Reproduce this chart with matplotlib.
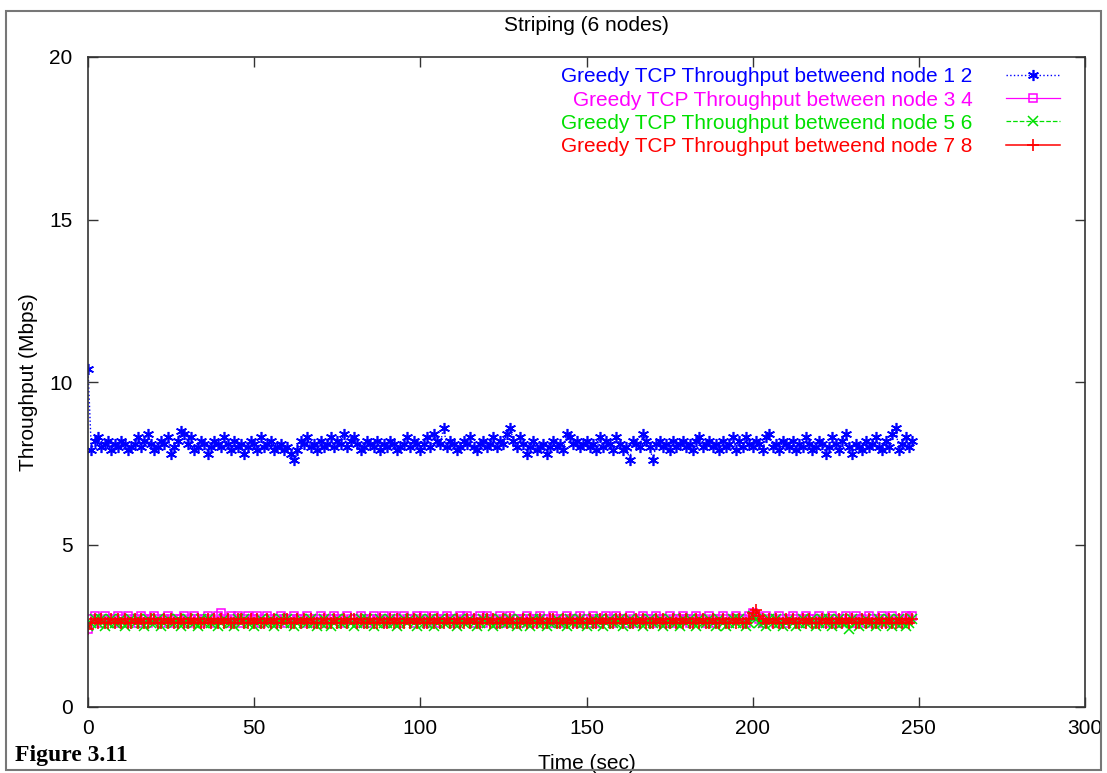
import numpy as np
import matplotlib
matplotlib.use('Agg')
import matplotlib.pyplot as plt
from matplotlib.patches import Rectangle

plt.rcParams['font.family'] = ['Liberation Sans', 'DejaVu Sans']

# sample instants (sec)
time_s = np.arange(249)

thr_12 = [10.4, 7.9, 8.2, 8.3, 8.0, 8.1, 8.2, 7.9, 8.1, 8.0,
          8.2, 8.1, 7.9, 8.0, 8.1, 8.3, 8.0, 8.2, 8.4, 8.1,
          7.9, 8.0, 8.2, 8.1, 8.3, 7.8, 8.0, 8.2, 8.5, 8.4,
          8.1, 8.3, 7.9, 8.0, 8.2, 8.1, 7.8, 8.0, 8.2, 8.1,
          8.0, 8.3, 8.1, 7.9, 8.2, 8.0, 8.1, 7.8, 8.0, 8.2,
          8.1, 7.9, 8.3, 8.0, 8.1, 8.2, 7.9, 8.0, 8.1, 7.9,
          8.0, 7.8, 7.6, 7.9, 8.2, 8.1, 8.3, 8.0, 8.1, 7.9,
          8.2, 8.0, 8.1, 8.3, 8.0, 8.2, 8.1, 8.4, 8.0, 8.2,
          8.3, 8.1, 7.9, 8.0, 8.2, 8.1, 8.0, 8.2, 7.9, 8.1,
          8.0, 8.2, 8.1, 7.9, 8.0, 8.1, 8.3, 8.0, 8.2, 8.1,
          7.9, 8.1, 8.3, 8.0, 8.4, 8.2, 8.1, 8.6, 8.0, 8.2,
          8.1, 7.9, 8.0, 8.2, 8.1, 8.3, 8.0, 7.9, 8.1, 8.2,
          8.0, 8.1, 8.3, 8.0, 8.2, 8.1, 8.4, 8.6, 8.2, 8.0,
          8.3, 8.1, 7.8, 8.0, 8.2, 7.9, 8.0, 8.1, 7.8, 8.0,
          8.2, 8.0, 8.1, 7.9, 8.4, 8.3, 8.1, 8.2, 8.0, 8.1,
          8.2, 8.0, 8.1, 7.9, 8.3, 8.0, 8.2, 8.1, 7.9, 8.3,
          8.1, 7.9, 8.0, 7.6, 8.2, 8.1, 8.0, 8.4, 8.2, 8.0,
          7.6, 8.1, 8.2, 8.0, 8.1, 7.9, 8.2, 8.0, 8.1, 8.2,
          8.0, 8.1, 7.9, 8.2, 8.3, 8.0, 8.1, 8.2, 8.0, 8.1,
          7.9, 8.2, 8.0, 8.1, 8.3, 7.9, 8.2, 8.0, 8.3, 8.1,
          8.0, 8.2, 8.1, 7.9, 8.3, 8.4, 8.0, 8.1, 7.9, 8.2,
          8.1, 8.0, 8.2, 7.9, 8.1, 8.0, 8.3, 8.1, 7.9, 8.0,
          8.2, 8.1, 7.8, 8.0, 8.3, 8.1, 7.9, 8.2, 8.4, 8.0,
          7.8, 8.1, 8.0, 7.9, 8.2, 8.0, 8.1, 8.3, 8.0, 7.9,
          8.2, 8.0, 8.4, 8.6, 7.9, 8.1, 8.3, 8.0, 8.2]

thr_34 = [2.4, 2.7, 2.8, 2.7, 2.6, 2.8, 2.7, 2.7, 2.6, 2.8,
          2.7, 2.6, 2.8, 2.7, 2.7, 2.6, 2.8, 2.7, 2.6, 2.7,
          2.8, 2.7, 2.6, 2.7, 2.8, 2.7, 2.6, 2.7, 2.7, 2.8,
          2.6, 2.7, 2.8, 2.7, 2.6, 2.7, 2.8, 2.7, 2.6, 2.8,
          2.9, 2.7, 2.6, 2.8, 2.7, 2.8, 2.6, 2.7, 2.8, 2.7,
          2.7, 2.8, 2.6, 2.7, 2.8, 2.7, 2.6, 2.7, 2.8, 2.7,
          2.6, 2.7, 2.8, 2.7, 2.7, 2.6, 2.8, 2.7, 2.6, 2.7,
          2.8, 2.7, 2.6, 2.7, 2.8, 2.7, 2.7, 2.6, 2.8, 2.7,
          2.7, 2.6, 2.8, 2.7, 2.6, 2.7, 2.8, 2.7, 2.7, 2.8,
          2.6, 2.7, 2.8, 2.7, 2.6, 2.8, 2.7, 2.7, 2.6, 2.8,
          2.7, 2.8, 2.6, 2.7, 2.8, 2.7, 2.6, 2.7, 2.8, 2.7,
          2.7, 2.6, 2.8, 2.7, 2.8, 2.7, 2.6, 2.7, 2.8, 2.6,
          2.8, 2.7, 2.7, 2.6, 2.8, 2.7, 2.6, 2.8, 2.7, 2.7,
          2.6, 2.7, 2.8, 2.7, 2.6, 2.7, 2.8, 2.7, 2.7, 2.6,
          2.8, 2.7, 2.6, 2.7, 2.8, 2.7, 2.7, 2.6, 2.8, 2.7,
          2.7, 2.6, 2.8, 2.7, 2.6, 2.7, 2.8, 2.7, 2.6, 2.8,
          2.7, 2.7, 2.6, 2.8, 2.7, 2.6, 2.7, 2.8, 2.7, 2.7,
          2.6, 2.8, 2.7, 2.7, 2.6, 2.8, 2.7, 2.6, 2.7, 2.8,
          2.7, 2.6, 2.7, 2.8, 2.7, 2.7, 2.6, 2.8, 2.7, 2.6,
          2.7, 2.8, 2.7, 2.6, 2.7, 2.8, 2.7, 2.7, 2.6, 2.8,
          2.9, 2.8, 2.7, 2.6, 2.8, 2.7, 2.7, 2.6, 2.8, 2.7,
          2.6, 2.7, 2.8, 2.7, 2.6, 2.7, 2.8, 2.7, 2.7, 2.6,
          2.8, 2.7, 2.6, 2.7, 2.8, 2.7, 2.6, 2.7, 2.8, 2.7,
          2.6, 2.8, 2.7, 2.7, 2.6, 2.8, 2.7, 2.6, 2.7, 2.8,
          2.7, 2.6, 2.8, 2.7, 2.7, 2.6, 2.8, 2.7, 2.8]

thr_56 = [2.5, 2.6, 2.7, 2.6, 2.7, 2.5, 2.6, 2.7, 2.6, 2.6,
          2.7, 2.5, 2.6, 2.7, 2.6, 2.7, 2.6, 2.5, 2.7, 2.6,
          2.6, 2.7, 2.5, 2.6, 2.7, 2.6, 2.6, 2.7, 2.5, 2.6,
          2.7, 2.6, 2.6, 2.5, 2.7, 2.6, 2.7, 2.6, 2.6, 2.5,
          2.6, 2.7, 2.6, 2.6, 2.5, 2.7, 2.6, 2.7, 2.6, 2.6,
          2.5, 2.6, 2.7, 2.6, 2.6, 2.7, 2.5, 2.6, 2.7, 2.6,
          2.7, 2.6, 2.5, 2.6, 2.7, 2.6, 2.6, 2.7, 2.6, 2.5,
          2.6, 2.7, 2.6, 2.5, 2.6, 2.7, 2.6, 2.6, 2.7, 2.6,
          2.5, 2.6, 2.7, 2.6, 2.7, 2.6, 2.5, 2.6, 2.7, 2.6,
          2.6, 2.7, 2.6, 2.5, 2.6, 2.7, 2.6, 2.7, 2.6, 2.5,
          2.7, 2.6, 2.6, 2.7, 2.5, 2.6, 2.7, 2.6, 2.6, 2.7,
          2.6, 2.5, 2.7, 2.6, 2.6, 2.7, 2.6, 2.5, 2.6, 2.7,
          2.6, 2.7, 2.5, 2.6, 2.7, 2.6, 2.6, 2.7, 2.6, 2.5,
          2.7, 2.6, 2.6, 2.5, 2.7, 2.6, 2.7, 2.6, 2.5, 2.6,
          2.6, 2.7, 2.6, 2.6, 2.5, 2.7, 2.6, 2.6, 2.7, 2.6,
          2.5, 2.6, 2.7, 2.6, 2.7, 2.5, 2.6, 2.7, 2.6, 2.6,
          2.7, 2.5, 2.6, 2.7, 2.6, 2.6, 2.7, 2.5, 2.6, 2.7,
          2.6, 2.6, 2.7, 2.5, 2.6, 2.7, 2.6, 2.6, 2.5, 2.7,
          2.6, 2.7, 2.6, 2.5, 2.7, 2.6, 2.6, 2.7, 2.6, 2.5,
          2.7, 2.6, 2.5, 2.6, 2.7, 2.6, 2.7, 2.6, 2.5, 2.6,
          2.8, 2.7, 2.6, 2.6, 2.5, 2.7, 2.6, 2.7, 2.6, 2.5,
          2.6, 2.7, 2.6, 2.5, 2.6, 2.7, 2.6, 2.6, 2.7, 2.5,
          2.6, 2.7, 2.6, 2.7, 2.5, 2.6, 2.7, 2.6, 2.6, 2.4,
          2.7, 2.6, 2.5, 2.6, 2.7, 2.6, 2.6, 2.5, 2.7, 2.6,
          2.6, 2.7, 2.5, 2.6, 2.7, 2.6, 2.5, 2.6, 2.7]

thr_78 = [2.4, 2.6, 2.7, 2.6, 2.7, 2.6, 2.6, 2.7, 2.6, 2.7,
          2.6, 2.7, 2.6, 2.6, 2.7, 2.6, 2.7, 2.6, 2.6, 2.7,
          2.7, 2.6, 2.6, 2.7, 2.6, 2.7, 2.6, 2.6, 2.7, 2.6,
          2.6, 2.7, 2.6, 2.7, 2.6, 2.6, 2.7, 2.6, 2.7, 2.6,
          2.7, 2.6, 2.7, 2.6, 2.6, 2.7, 2.7, 2.6, 2.6, 2.7,
          2.6, 2.7, 2.6, 2.6, 2.7, 2.6, 2.7, 2.6, 2.6, 2.7,
          2.7, 2.6, 2.6, 2.7, 2.6, 2.7, 2.6, 2.7, 2.6, 2.6,
          2.6, 2.7, 2.6, 2.6, 2.7, 2.6, 2.6, 2.7, 2.6, 2.7,
          2.7, 2.6, 2.7, 2.6, 2.6, 2.7, 2.6, 2.6, 2.7, 2.6,
          2.6, 2.7, 2.6, 2.7, 2.6, 2.6, 2.7, 2.6, 2.7, 2.6,
          2.7, 2.6, 2.6, 2.7, 2.6, 2.7, 2.6, 2.6, 2.7, 2.6,
          2.6, 2.7, 2.6, 2.6, 2.7, 2.6, 2.7, 2.6, 2.6, 2.7,
          2.7, 2.6, 2.7, 2.6, 2.6, 2.7, 2.6, 2.7, 2.6, 2.6,
          2.6, 2.7, 2.6, 2.7, 2.6, 2.6, 2.7, 2.6, 2.6, 2.7,
          2.7, 2.6, 2.6, 2.7, 2.6, 2.7, 2.6, 2.6, 2.7, 2.6,
          2.6, 2.7, 2.6, 2.6, 2.7, 2.6, 2.7, 2.6, 2.6, 2.7,
          2.7, 2.6, 2.7, 2.6, 2.6, 2.7, 2.6, 2.7, 2.6, 2.6,
          2.6, 2.7, 2.6, 2.7, 2.6, 2.6, 2.7, 2.6, 2.7, 2.6,
          2.7, 2.6, 2.6, 2.7, 2.6, 2.7, 2.6, 2.6, 2.7, 2.6,
          2.6, 2.7, 2.6, 2.6, 2.7, 2.6, 2.7, 2.6, 2.6, 2.7,
          2.9, 3.0, 2.8, 2.7, 2.6, 2.7, 2.6, 2.7, 2.6, 2.6,
          2.7, 2.6, 2.7, 2.6, 2.6, 2.7, 2.6, 2.7, 2.6, 2.6,
          2.6, 2.7, 2.6, 2.7, 2.6, 2.6, 2.7, 2.6, 2.7, 2.6,
          2.7, 2.6, 2.6, 2.7, 2.6, 2.7, 2.6, 2.6, 2.7, 2.6,
          2.6, 2.7, 2.6, 2.6, 2.7, 2.6, 2.7, 2.6, 2.7]

labels = ['Greedy TCP Throughput betweend node 1 2',
          'Greedy TCP Throughput between node 3 4',
          'Greedy TCP Throughput betweend node 5 6',
          'Greedy TCP Throughput betweend node 7 8']

W, H = 1107, 773
fig = plt.figure(figsize=(W / 100, H / 100), dpi=100)
ax = fig.add_axes([88 / W, 1 - 707 / H, (1085 - 88) / W, (707 - 57) / H])

ax.plot(time_s, thr_12, color='#0000ff', ls=':', lw=1.0, marker=(6, 2, 0), ms=8, mew=1.2, label=labels[0])
ax.plot(time_s, thr_34, color='#ff00ff', ls='-', lw=0.9, marker='s', ms=6, mfc='none', mew=1.1, label=labels[1])
ax.plot(time_s, thr_56, color='#00e000', ls='--', lw=0.9, marker='x', ms=6.5, mew=1.1, label=labels[2])
ax.plot(time_s, thr_78, color='#ff0000', ls='-', lw=1.1, marker='+', ms=8, mew=1.2, label=labels[3])

ax.set_xlim(0, 300)
ax.set_ylim(0, 20)
ax.set_xticks([0, 50, 100, 150, 200, 250, 300])
ax.set_yticks([0, 5, 10, 15, 20])
ax.tick_params(direction='in', length=7, width=1, top=True, right=True,
               labelsize=15, color='#333333')
ax.tick_params(axis='x', pad=9)
ax.tick_params(axis='y', pad=11)
for s in ax.spines.values():
    s.set_color('#333333')
    s.set_linewidth(1.2)

ax.set_title('Striping (6 nodes)', fontsize=15, pad=19)
ax.set_xlabel('Time (sec)', fontsize=15, labelpad=11)
ax.set_ylabel('Throughput (Mbps)', fontsize=15, labelpad=8)

leg = ax.legend(loc='upper right', bbox_to_anchor=(0.975, 0.984), frameon=False,
                markerfirst=False, fontsize=15, labelcolor='linecolor',
                handlelength=2.6, labelspacing=0.2, borderaxespad=0,
                borderpad=0, handletextpad=1.6)

fig.text(15 / W, 1 - 755 / H, 'Figure 3.11', fontsize=17, fontweight='bold',
         family='Liberation Serif', va='center', ha='left')

fig.patches.append(Rectangle((6 / W, 1 - 770 / H), (1101 - 6) / W, (770 - 11) / H,
                             transform=fig.transFigure, fill=False,
                             edgecolor='#777777', lw=1.5))

fig.savefig('out.png', dpi=100)
